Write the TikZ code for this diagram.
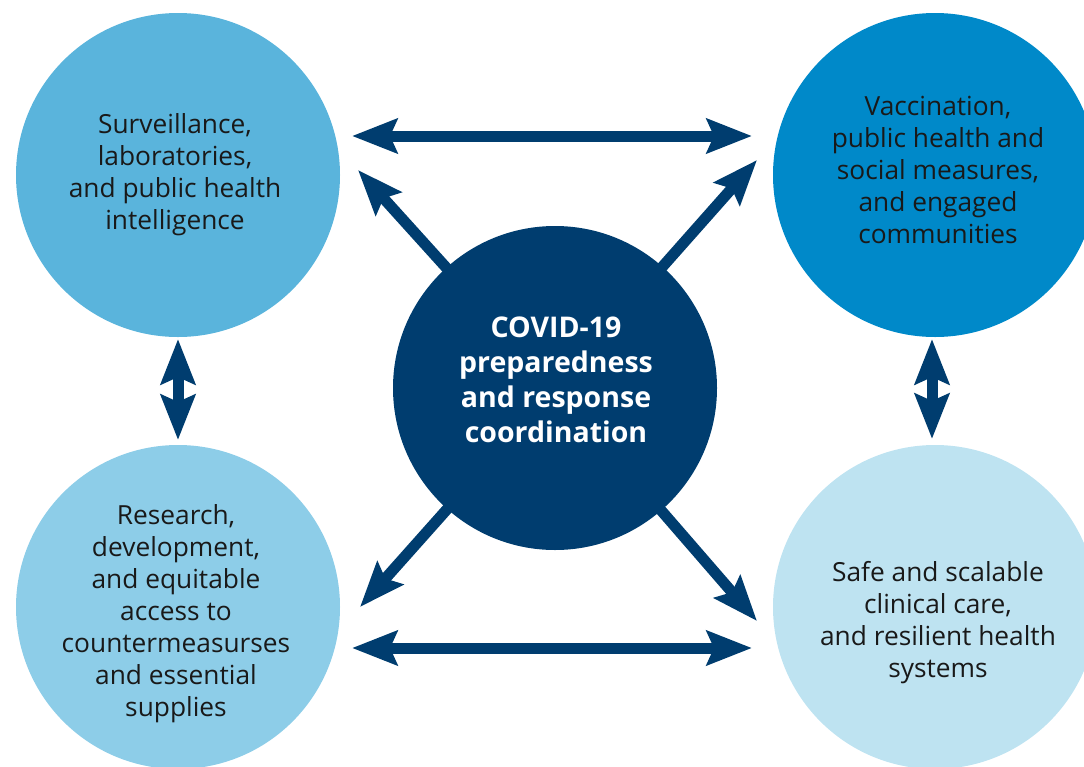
\documentclass[tikz,border=0pt]{standalone}
\usepackage{fontspec}
\setmainfont{Open Sans}
\usetikzlibrary{arrows.meta,positioning}

\definecolor{navy}{HTML}{003D6F}
\definecolor{blueA}{HTML}{5AB4DC}
\definecolor{blueB}{HTML}{0089C9}
\definecolor{blueC}{HTML}{8DCDE8}
\definecolor{blueD}{HTML}{BEE3F1}

\begin{document}
\begin{tikzpicture}[x=1pt, y=-1pt,
	blob/.style={circle, minimum size=324pt, inner sep=0pt},
	txt/.style={align=center, text=black!90, font=\fontsize{26.3}{32}\selectfont},
	link/.style={draw=navy, line width=11pt,
		{Stealth[length=45pt, width=34pt, inset=7pt]}-{Stealth[length=45pt, width=34pt, inset=7pt]}},
	spoke/.style={draw=navy, line width=11pt, shorten <=-8pt,
		-{Stealth[length=45pt, width=34pt, inset=7pt]}}]
\clip (0,0) rectangle (1084,766);
% the four circles
\node[blob, fill=blueA] (tl) at (178, 175) {};
\node[blob, fill=blueB] (tr) at (935, 175) {};
\node[blob, fill=blueC] (bl) at (178, 607) {};
\node[blob, fill=blueD] (br) at (935, 607) {};
\node[txt] (tltxt) at (175, 175) {Surveillance,\\laboratories,\\and public health\\intelligence};
\node[txt] (trtxt) at (938, 170) {Vaccination,\\public health and\\social measures,\\and engaged\\communities};
\node[txt] (bltxt) at (176, 614) {Research,\\development,\\and equitable\\access to\\countermeasurses\\and essential\\supplies};
\node[txt] (brtxt) at (938, 623) {Safe and scalable\\clinical care,\\and resilient health\\systems};
% centre
\node[blob, fill=navy] (hub) at (555, 388) {};
\node[txt, text=white, font=\bfseries\fontsize{28.5}{35}\selectfont] (hubtxt) at (556, 380)
	{COVID-19\\preparedness\\and response\\coordination};
% arrow ends
\coordinate (h1a) at (352, 136);
\coordinate (h1b) at (752, 136);
\coordinate (h2a) at (352, 648);
\coordinate (h2b) at (752, 648);
\coordinate (v1a) at (178, 339);
\coordinate (v1b) at (178, 440);
\coordinate (v2a) at (932, 339);
\coordinate (v2b) at (932, 439);
\coordinate (dtl) at (358, 170);
\coordinate (dtr) at (757, 160);
\coordinate (dbl) at (360, 607);
\coordinate (dbr) at (757, 621);
\draw[link] (h1a) -- (h1b);
\draw[link] (h2a) -- (h2b);
\draw[link] (v1a) -- (v1b);
\draw[link] (v2a) -- (v2b);
\draw[spoke] (hub) -- (dtl);
\draw[spoke] (hub) -- (dtr);
\draw[spoke] (hub) -- (dbl);
\draw[spoke] (hub) -- (dbr);
\end{tikzpicture}
\end{document}
